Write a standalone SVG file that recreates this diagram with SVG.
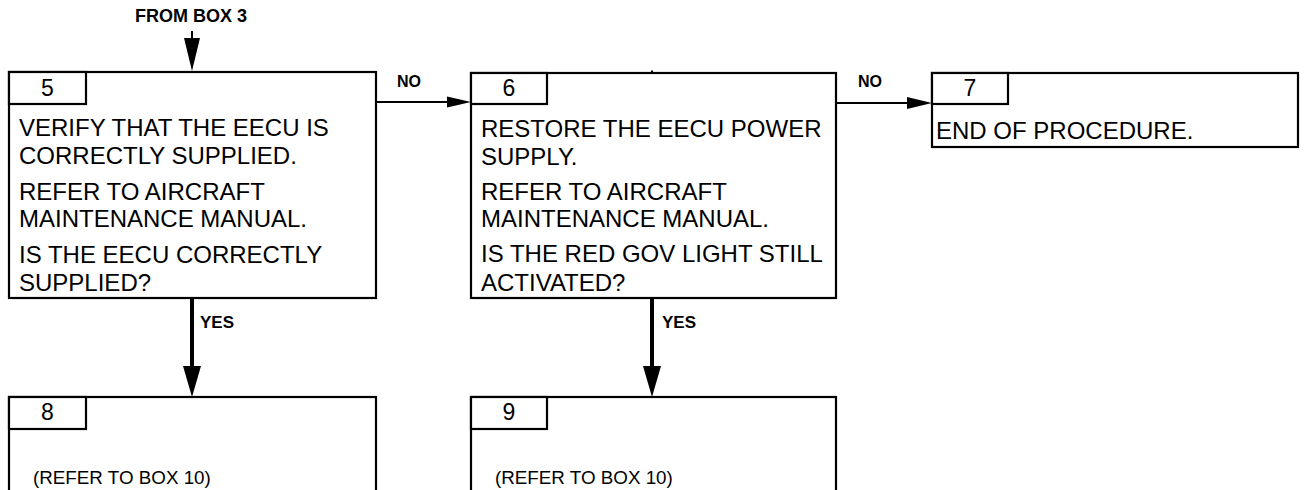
<svg xmlns="http://www.w3.org/2000/svg" width="1304" height="490" viewBox="0 0 1304 490">
<defs>
<style>
.box{fill:#fff;stroke:#000;stroke-width:2.2}
.tab{fill:#fff;stroke:#000;stroke-width:2.2}
.t{font-family:"Liberation Sans",Arial,sans-serif;font-size:24px;fill:#000}
.num{font-family:"Liberation Sans",Arial,sans-serif;font-size:23px;fill:#000;text-anchor:middle}
.ref{font-family:"Liberation Sans",Arial,sans-serif;font-size:18.8px;fill:#000}
.lbl{font-family:"Liberation Sans",Arial,sans-serif;font-weight:bold;fill:#000}
.thin{stroke:#000;stroke-width:2;fill:none}
.thick{stroke:#000;stroke-width:4;fill:none}
.head{fill:#000}
</style>
</defs>
<rect width="1304" height="490" fill="#fff"/>
<g id="box5">
<rect class="box" x="9" y="72" width="367" height="226"/>
<rect class="tab" x="9" y="72" width="77" height="32"/>
<text class="num" x="47.5" y="96">5</text>
<text class="t" x="19" y="136">VERIFY THAT THE EECU IS</text>
<text class="t" x="19" y="164">CORRECTLY SUPPLIED.</text>
<text class="t" x="19" y="200">REFER TO AIRCRAFT</text>
<text class="t" x="19" y="227">MAINTENANCE MANUAL.</text>
<text class="t" x="19" y="263">IS THE EECU CORRECTLY</text>
<text class="t" x="19" y="291">SUPPLIED?</text>
</g>
<g id="box6">
<rect class="box" x="471" y="73" width="365" height="225"/>
<rect class="tab" x="471" y="73" width="76" height="31"/>
<text class="num" x="509" y="96">6</text>
<text class="t" x="481" y="137">RESTORE THE EECU POWER</text>
<text class="t" x="481" y="165">SUPPLY.</text>
<text class="t" x="481" y="200">REFER TO AIRCRAFT</text>
<text class="t" x="481" y="227">MAINTENANCE MANUAL.</text>
<text class="t" x="481" y="262">IS THE RED GOV LIGHT STILL</text>
<text class="t" x="481" y="291">ACTIVATED?</text>
<line x1="652" y1="70.5" x2="652" y2="73" stroke="#000" stroke-width="2"/>
</g>
<g id="box7">
<rect class="box" x="932" y="73" width="366" height="74"/>
<rect class="tab" x="932" y="73" width="76" height="31"/>
<text class="num" x="970" y="96">7</text>
<text class="t" x="936" y="139">END OF PROCEDURE.</text>
</g>
<g id="box8">
<rect class="box" x="9" y="397" width="367" height="110"/>
<rect class="tab" x="9" y="397" width="77" height="32"/>
<text class="num" x="47.5" y="420">8</text>
<text class="ref" x="33" y="484">(REFER TO BOX 10)</text>
</g>
<g id="box9">
<rect class="box" x="471" y="397" width="365" height="110"/>
<rect class="tab" x="471" y="397" width="76" height="32"/>
<text class="num" x="509" y="420">9</text>
<text class="ref" x="495" y="484">(REFER TO BOX 10)</text>
</g>
<g id="connectors">
<text class="lbl" x="135" y="22" font-size="18px">FROM BOX 3</text>
<line class="thin" x1="192" y1="31" x2="192" y2="40" stroke-width="1.5"/>
<polygon class="head" points="184,38 200,38 192,71"/>
<line class="thin" x1="376" y1="102" x2="450" y2="102"/>
<polygon class="head" points="447,96.5 471,102 447,107.5"/>
<text class="lbl" x="397" y="87" font-size="16px">NO</text>
<line class="thin" x1="836" y1="103" x2="910" y2="103"/>
<polygon class="head" points="907,97 932,103 907,109"/>
<text class="lbl" x="858" y="87" font-size="16px">NO</text>
<line class="thick" x1="192" y1="298" x2="192" y2="370"/>
<polygon class="head" points="183,366 201,366 192,397"/>
<text class="lbl" x="200" y="328" font-size="17px">YES</text>
<line class="thick" x1="652" y1="298" x2="652" y2="370"/>
<polygon class="head" points="643,366 661,366 652,397"/>
<text class="lbl" x="662" y="328" font-size="17px">YES</text>
</g>
</svg>
